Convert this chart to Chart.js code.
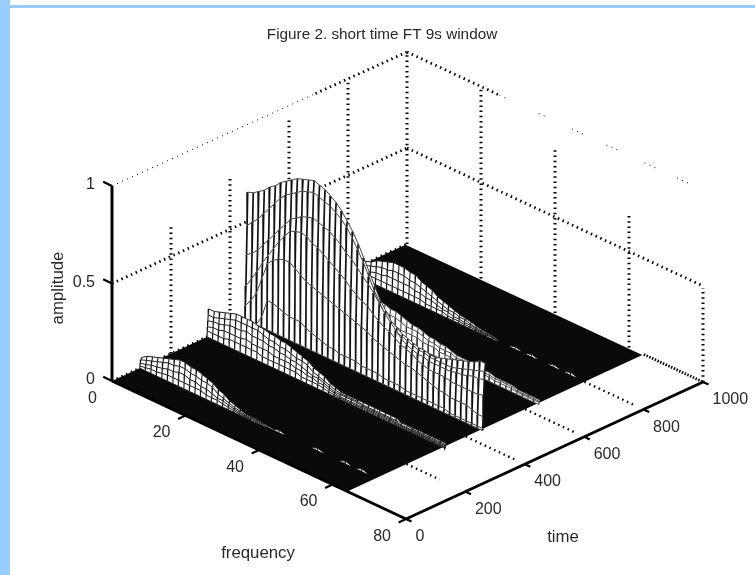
<!DOCTYPE html>
<html><head><meta charset="utf-8"><title>Figure 2. short time FT 9s window</title>
<script src="https://cdn.jsdelivr.net/npm/chart.js@4/dist/chart.umd.min.js"></script>
<style>
html,body{margin:0;padding:0;background:#fff;width:755px;height:575px;overflow:hidden}
#l{position:absolute;left:0;top:0;width:10px;height:575px;background:#99ccff}
#t{position:absolute;left:10px;top:5px;width:745px;height:3px;background:#99ccff}
#w{position:absolute;left:0;top:0;width:755px;height:575px}
</style></head><body><div id="l"></div><div id="t"></div>
<div id="w"><canvas id="c" width="755" height="575"></canvas></div>
<script>
const titleText='Figure 2. short time FT 9s window';
const freqTicks=[0,20,40,60,80];
const timeTicks=[0,200,400,600,800,1000];
const ampTicks=[0,50,100];
const ampTickLabels=['0','0.5','1'];
const freqGrid=[0,1.5,3,4.5,6,7.5,9,10.5,12,13.5,15,16.5,18,19.5,21,22.5,24,25.5,27,28.5,30,31.5,33,34.5,36,37.5,39,40.5,42,43.5,45,46.5,48,49.5,51,52.5,54,55.5,57,58.5,60,61.5,63,64.5];
// amplitude (percent) per row, back row first; missing trailing values are zero
const ridgeTimesA=[100,98,96,95,94];
const ridgeA1=[5,7,8,9,10,11,12,13,13,12,12,11,10,9,7,6,4,3,2,1,1,.8,.5,.3,0,.9,0,0,0,0,0,0,.9,0,0,0,0,.9,0,0,.9];
const ridgeA2=[4,5,6,7,8,9,9,10,10,9,9,8,8,7,5,4,3,2,1.5,.7,.7,.5,.3];
const ridgeA3=[2.5,3,4,4.5,5,6,6,7,7,6,6,5,5,4,3,3,2,1.5,1,.5,.4,.3];
const ridgeA4=[1,1.5,2,2,2.5,3,3,3,3,3,3,3,2,2,2,1.5,1,.7,.5,.3];
const ridgeTimesB=[328,326,325,324,323,322];
const ridgeB1=[14,14,15,16,17,18,18,18,18,17,17,16,16,15,15,14,13,12,11,9,8,7,5,4,3,3,3,3,3,3,3,3,3,3,3,2,2,2,2,2,2,2,2,2];
const ridgeB2=[11,11,12,13,14,15,15,15,15,15,14,13,13,12,12,11,10,10,9,7,6,5,4,3,2.5,2.5,2.5,2.5,2,2,2,2,2,2,2,2,2,1.5,1.5,1.5,1.5,1.5,1.5,1.5];
const ridgeB3=[8,9,9,10,11,11,11,12,11,11,11,10,10,9,9,8,8,7,6,5,5,4,3,2,2,2,2,2,1.5,1.5,1.5,1.5,1.5,1.5,1.5,1,1,1,1,1,1,1,1,1];
const ridgeB4=[5,6,6,7,7,7,7,8,7,7,7,7,6,6,6,6,5,5,4,4,3,3,2,1.5,1,1,1,1,1,1,1,1,1,1,1,.7,.7,.7,.7,.7,.7,.5,.5,.5];
const ridgeB5=[3,3,3,3,4,4,4,4,4,4,3,3,3,3,3,3,3,2,2,2,2,1.5,1,.7,.5,.5,.5,.5,.5,.5,.5,.5,.5,.5,.5,.4,.4,.3,.3,.3,.3,.3,.3,.3];
const ridgeTimesC=[460,458,456,454,452,451,450];
const ridgeC1=[65,66,68,70,73,75,78,80,82,84,85,86,87,86,85,83,81,78,74,70,65,59,53,47,41,37,33,31,29,28,27,26,26,25,25,26,27,28,29,30,31,32,34,34];
const ridgeC2=[48,51,54,58,62,66,70,73,75,77,79,80,81,80,79,78,76,74,71,67,62,57,51,45,40,35,32,29,28,27,26,25,25,24,24,24,24,24,25,26,27,28,29,30];
const ridgeC3=[33,35,38,42,46,50,54,58,62,64,66,67,68,67,66,65,63,61,58,56,53,50,47,44,40,36,33,30,27,25,24,23,23,22,22,22,22,22,23,23,24,25,25,26];
const ridgeC4=[17,22,27,33,38,43,48,52,56,57,58,57,55,54,52,50,48,46,44,41,39,37,36,33,31,29,28,26,24,23,22,20,19,18,18,18,18,17,17,17,17,17,17,18];
const ridgeC5=[7,11,16,25,34,37,39,40,40,38,36,34,33,32,31,30,29,28,27,26,25,24,23,21,20,19,18,17,16,15,15,14,13,12,11,10,10,9,9,9,9,8,7,7];
const ridgeC6=[0,0,0,5,15,15,14,13,12,12,12,10,9,8,7,6,6,5,5,5,5,4,4,4,4,3,3,3,3,2,2,2,2,2,2,2,2,1,1,1,1,1,1,1];
const ridgeTimesD=[644,642,641,640];
const ridgeD1=[12,13,14,15,16,17,18,18,18,17,17,16,16,15,14.5,14,13,13,12,11,10,10,9,8,8,7,7,6,5,5,5,4,4,4,4,3,3,3,3,2,2,2,2,2];
const ridgeD2=[10,10,11,12,13,13,14,14,14,13,13,12,12,11,11,11,10,10,9,8,8,8,7,6,6,5,5,5,4,4,4,3,3,3,3,2.5,2.5,2.5,2.5,1.5,1.5,1.5,1.5,1.5];
const ridgeD3=[5,6,6,7,7,8,8,8,8,8,8,7,7,7,7,6,6,6,5,5,5,5,4,4,4,3,3,3,2.5,2.5,2.5,2,2,2,2,1.5,1.5,1.5,1.5,1,1,1,1,1];
const ridgeTimesE=[804,802,801,800,799];
const ridgeE1=[6,7,8,9,10,12,13,14,15,15,15,14,14,12,11,10,8,7,6,5,4,3.5,3,2,1.5,1,1,0,0,0,.9,0,0,.9,0,0,0,.9,0,0,.9];
const ridgeE2=[5,5,6,7,8,9,10,10,11,11,11,10,10,9,8,7,6,5,4,4,3,3,2,1.5,1,.7,.7];
const ridgeE3=[3,3,4,5,5,6,6,7,7,7,7,7,6,6,5,5,4,3,3,2,2,1.5,1.5,1,.7,.4,.4];
const ridgeE4=[1,2,2,2,3,3,3,3,3,3,3,3,3,3,2,2,2,2,1,1,1,.7,.7,.5,.3];
const floorFreq=[0,64,64,0];
const floorTime=[0,0,995,995];
// how far up each dotted wall line survives in the picture (percent amplitude)
const backWallTop=[65,77,93,98,100];
const sideWallTop=[99,86,69,49];
const floorGridEnd=[73,78,78,78,80];
const topSideClusters=[[35.6,37.5],[44.6,47.9],[53.9,56.9],[64.2,67.5],[73,76.2]];

const P=(f,t,a)=>({x:112+3.675*f+(0.295+0.000025*f)*t,y:381+1.725*f-0.137*t-(1.95-0.00003*t)*a});
const ds=[];
const GAP={x:NaN,y:NaN};
const line=(pts,c,w,dash)=>ds.push({data:pts,showLine:true,spanGaps:false,borderColor:c,borderWidth:w,borderDash:dash||[],pointRadius:0,tension:0,fill:false,clip:false,borderCapStyle:'butt',borderJoinStyle:'miter'});
const area=(pts,c)=>ds.push({data:pts,showLine:true,borderColor:c,borderWidth:0,backgroundColor:c,pointRadius:0,tension:0,fill:'shape',clip:false});
const BOLD=[1.5,3.7],THIN=[1,4.5];

// dotted walls, behind everything
timeTicks.slice(1).forEach((t,i)=>line([P(0,t,0),P(0,t,backWallTop[i])],'#000',3,BOLD));
freqTicks.slice(1).forEach((f,i)=>line([P(f,1000,0),P(f,1000,sideWallTop[i])],'#000',3,BOLD));
line([P(0,0,50),P(0,1000,50)],'#000',2.8,BOLD);
line([P(0,1000,50),P(80,1000,50)],'#000',2.8,BOLD);
line([P(0,0,100),P(0,690,100)],'#000',1,THIN);
line([P(0,690,100),P(0,1000,100)],'#000',2.8,BOLD);
line([P(0,1000,100),P(25,1000,100)],'#000',2.8,BOLD);
line([P(25,1000,100),P(27,1000,100)],'#000',1,THIN);
topSideClusters.forEach(c=>line([P(c[0],1000,100),P(c[1],1000,100)],'#000',1,THIN));
line([P(0,0,0),P(0,1000,0)],'#000',2.8,BOLD);
timeTicks.slice(1).forEach((t,i)=>line([P(64,t,0),P(floorGridEnd[i],t,0)],'#000',i==4?2.8:2.4,i==4?[1.5,1.5]:BOLD));

// floor
area(floorFreq.map((f,i)=>P(f,floorTime[i],0)),'#0a0a0a');

// a ridge: strips from back to front, each painted white then outlined; flat cells stay floor
function ridge(times,rows,colCol,colW,rowCol,rowW){
  const v=(r,j)=>(rows[r]&&rows[r][j]!==undefined)?rows[r][j]:0;
  const n=freqGrid.length;
  for(let r=0;r<times.length-1;r++){
    const hi=[],lo=[];
    for(let j=0;j<n;j++){hi.push(P(freqGrid[j],times[r],v(r,j)));lo.push(P(freqGrid[j],times[r+1],v(r+1,j)));}
    const on=j=>j<n-1&&(v(r,j)>0||v(r,j+1)>0||v(r+1,j)>0||v(r+1,j+1)>0);
    for(let j=0;j<n-1;j++){
      if(!on(j))continue;
      let a=j;while(on(j+1))j++;
      const b=j+1;
      area(hi.slice(a,b+1).concat(lo.slice(a,b+1).reverse()),'#ffffff');
      const cols=[];
      for(let k=a;k<=b;k++)cols.push(hi[k],lo[k],GAP);
      line(cols,colCol,colW);
      line(hi.slice(a,b+1),rowCol,rowW);
      if(r==times.length-2)line(lo.slice(a,b+1),rowCol,rowW);
    }
  }
}
ridge(ridgeTimesE,[ridgeE1,ridgeE2,ridgeE3,ridgeE4,[]],'#111',1.1,'#222',1);
ridge(ridgeTimesD,[ridgeD1,ridgeD2,ridgeD3,[]],'#333',1,'#555',1);
ridge(ridgeTimesC,[ridgeC1,ridgeC2,ridgeC3,ridgeC4,ridgeC5,ridgeC6,[]],'#111',1.7,'#444',1);
ridge(ridgeTimesB,[ridgeB1,ridgeB2,ridgeB3,ridgeB4,ridgeB5,[]],'#111',1.1,'#222',1);
ridge(ridgeTimesA,[ridgeA1,ridgeA2,ridgeA3,ridgeA4,[]],'#111',1.1,'#222',1);

// solid axes and ticks
line([P(0,0,0),P(80,0,0)],'#000',3);
line([P(80,0,0),P(80,1000,0)],'#000',3);
line([P(0,0,0),P(0,0,100)],'#000',3);
ampTicks.forEach(a=>line([P(0,0,a),P(-2.4,0,a)],'#000',2.2));
freqTicks.slice(1).forEach(f=>line([P(f,0,0),P(f,-25,0)],'#000',2.2));
timeTicks.forEach(t=>line([P(80,t,0),P(81.5,t,0)],'#000',2.2));
ds.forEach((d,i)=>d.order=ds.length-i);

const labels={id:'labels',afterDraw(ch){
  const g=ch.ctx,X=ch.scales.x,Y=ch.scales.y;
  const put=(s,x,y,al)=>{g.textAlign=al;g.fillText(s,x,y);};
  const at=(p)=>({x:X.getPixelForValue(p.x),y:Y.getPixelForValue(p.y)});
  g.save();g.fillStyle='#2a2a2a';g.textBaseline='middle';
  g.font='15.3px "Liberation Sans"';
  put(titleText,382,35,'center');
  g.font='16px "Liberation Sans"';
  freqTicks.forEach(f=>{const p=at(P(f,0,0));put(String(f),p.x-15,p.y+17.5,'right');});
  timeTicks.forEach(t=>{const p=at(P(80,t,0));put(String(t),p.x+9.5,p.y+17.7,'left');});
  ampTicks.forEach((a,i)=>{const p=at(P(0,0,a));put(ampTickLabels[i],p.x-17,p.y-1,'right');});
  g.font='16.8px "Liberation Sans"';
  put('frequency',258,553,'center');
  put('time',563,537,'center');
  g.translate(58,288);g.rotate(-Math.PI/2);put('amplitude',0,0,'center');
  g.restore();
}};
new Chart(document.getElementById('c'),{type:'scatter',data:{datasets:ds},plugins:[labels],options:{
  responsive:false,animation:false,layout:{padding:0},events:[],
  plugins:{legend:{display:false},tooltip:{enabled:false},title:{display:false}},
  scales:{x:{type:'linear',min:0,max:755,display:false},y:{type:'linear',min:0,max:575,reverse:true,display:false}}
}});
</script></body></html>
